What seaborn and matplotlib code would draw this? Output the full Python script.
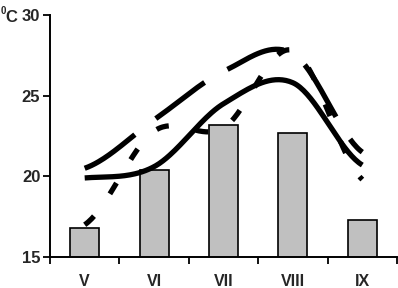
import numpy as np
import matplotlib
matplotlib.use("Agg")
import matplotlib.pyplot as plt
import seaborn as sns

months = ["V", "VI", "VII", "VIII", "IX"]
bar_vals = [16.8, 20.4, 23.2, 22.7, 17.3]
solid_vals = [19.9, 20.6, 24.5, 25.8, 20.7]
longdash_vals = [20.5, 23.5, 26.5, 27.6, 21.5]
dot_vals = [17.0, 22.8, 23.0, 27.8, 19.8]
yticks = [15, 20, 25, 30]


def smooth(vals, n=40):
    # catmull-rom like the excel "smoothed line"
    p = np.asarray(vals, float)
    m = np.empty_like(p)
    m[1:-1] = (p[2:] - p[:-2]) / 2
    m[0] = (p[1] - p[0]) / 2
    m[-1] = (p[-1] - p[-2]) / 2
    xs, ys = [], []
    for i in range(len(p) - 1):
        t = np.linspace(0, 1, n, endpoint=(i == len(p) - 2))
        h00 = 2 * t**3 - 3 * t**2 + 1
        h10 = t**3 - 2 * t**2 + t
        h01 = -2 * t**3 + 3 * t**2
        h11 = t**3 - t**2
        xs.append(i + t)
        ys.append(h00 * p[i] + h10 * m[i] + h01 * p[i + 1] + h11 * m[i + 1])
    return np.concatenate(xs), np.concatenate(ys)


sns.set_style("ticks")
plt.rcParams["font.family"] = ["Liberation Sans", "DejaVu Sans"]
plt.rcParams["font.weight"] = "bold"

fig = plt.figure(figsize=(3.98, 2.88), dpi=100)
ax = fig.add_axes([50 / 398, 31 / 288, 347 / 398, 242 / 288])

sns.barplot(x=months, y=bar_vals, color="#c0c0c0", saturation=1,
            edgecolor="black", linewidth=1.2, width=0.42, ax=ax, zorder=2)

x, y = smooth(solid_vals)
ax.plot(x, y, color="black", lw=3.8, solid_capstyle="butt", zorder=3)
x, y = smooth(longdash_vals)
ax.plot(x, y, color="black", lw=3.8, dashes=(11.5, 5), dash_capstyle="butt", zorder=3)
x, y = smooth(dot_vals)
ax.plot(x, y, color="black", lw=3.8, dashes=(2.4, 5.2), dash_capstyle="butt", zorder=3)

ax.set_xlim(-0.5, 4.5)
ax.set_ylim(15, 30)
ax.set_yticks(yticks)
ax.set_yticklabels([str(v) for v in yticks], fontsize=12, fontweight="bold")
ax.set_xticks(range(len(months)))
ax.set_xticklabels(months, fontsize=11.5, fontweight="bold")
ax.set_xticks(np.arange(-0.5, 5, 1), minor=True)
ax.tick_params(axis="x", which="major", length=0, pad=12)
ax.tick_params(axis="x", which="minor", length=5, width=1.3, color="black", direction="out")
ax.tick_params(axis="y", length=5, width=1.3, color="black", pad=2)
ax.set_xlabel("")
ax.set_ylabel("")
sns.despine(ax=ax)
for s in ["left", "bottom"]:
    ax.spines[s].set_linewidth(1.4)
    ax.spines[s].set_color("black")

fig.text(1 / 398, 1 - 11 / 288, "0", fontsize=7, fontweight="bold", va="center", ha="left")
fig.text(5 / 398, 1 - 17 / 288, "C", fontsize=12, fontweight="bold", va="center", ha="left")

fig.savefig("out.png", dpi=100)
